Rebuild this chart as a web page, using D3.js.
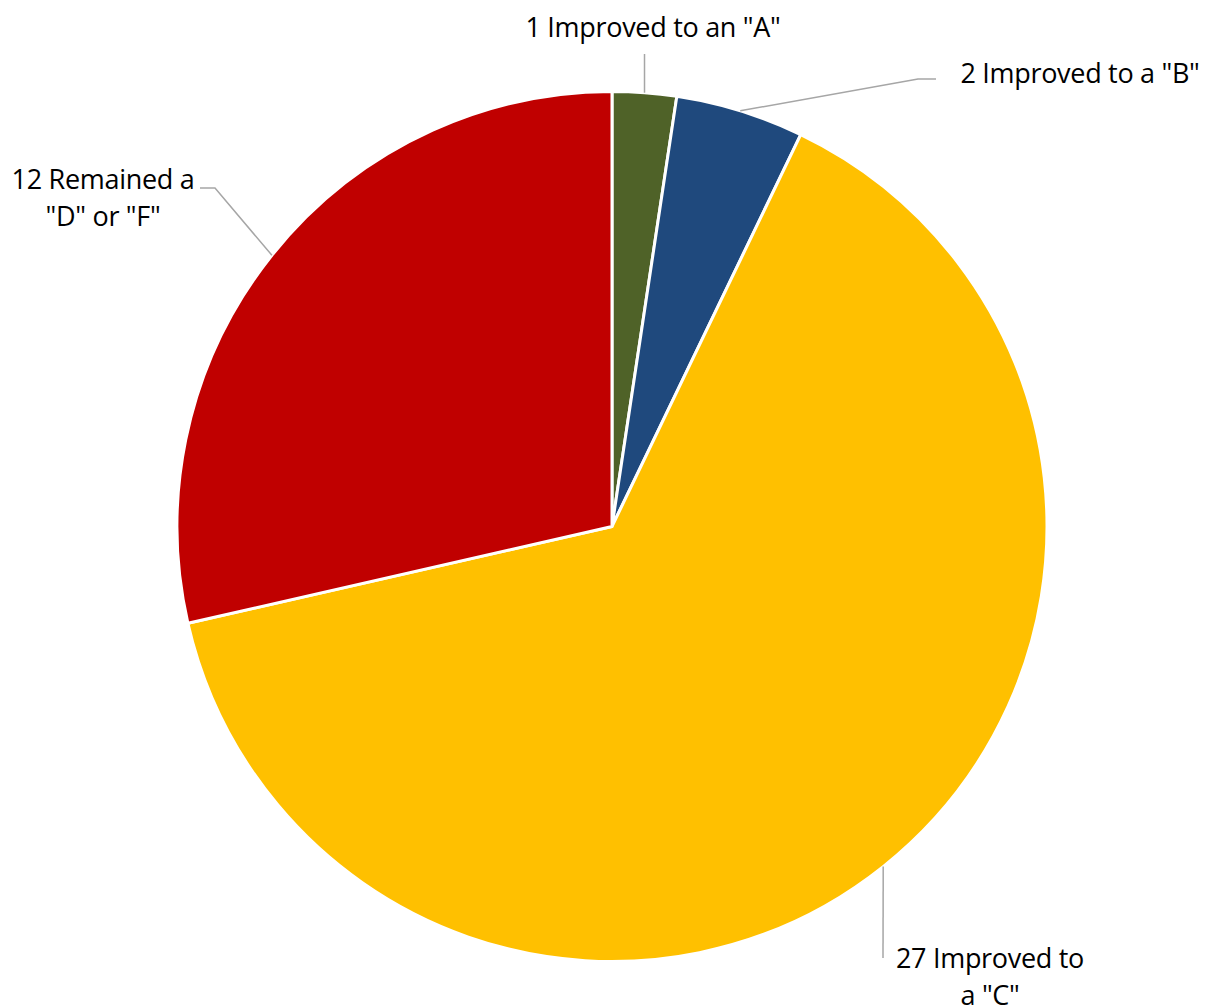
<!DOCTYPE html>
<html lang="en">
<head>
  <meta charset="UTF-8">
  <title>Grade improvement pie</title>
  <script src="https://d3js.org/d3.v7.min.js"></script>
  <style>
    body { margin: 0; background: #fff; }
    .label { font-family: "Open Sans", sans-serif; font-size: 27px; fill: #000; letter-spacing: -0.3px; }
    .leader { fill: none; stroke: #a6a6a6; stroke-width: 1.5px; }
  </style>
</head>
<body>
  <svg id="chart" width="1211" height="1005"></svg>
  <script>
    // chart data
    const categories = ["A", "B", "C", "DF"];
    const counts = [1, 2, 27, 12];
    const labels = [
      ['1 Improved to an "A"'],
      ['2 Improved to a "B"'],
      ['27 Improved to', 'a "C"'],
      ['12 Remained a', '"D" or "F"']
    ];
    const colors = ["#4f6228", "#1f497d", "#ffc000", "#c00000"];

    // where each label sits (elbow of the leader line, text anchor point)
    const labelLayout = [
      { elbow: null, text: [653, 37], anchor: "middle" },
      { elbow: [918, 79], end: [936, 79], text: [1080, 83], anchor: "middle" },
      { elbow: null, end: [883, 958], text: [990, 968], anchor: "middle" },
      { elbow: [215, 188], end: [200, 188], text: [103, 189], anchor: "middle" }
    ];

    const width = 1211, height = 1005;
    const cx = 612, cy = 526.5, radius = 435;
    const svg = d3.select("#chart");
    const g = svg.append("g").attr("transform", `translate(${cx},${cy})`);

    const pie = d3.pie().sort(null).value(d => d);
    const arcs = pie(counts);
    const arc = d3.arc().innerRadius(0).outerRadius(radius);

    g.selectAll("path.slice")
      .data(arcs)
      .join("path")
      .attr("class", "slice")
      .attr("d", arc)
      .attr("fill", (d, i) => colors[i])
      .attr("stroke", "#fff")
      .attr("stroke-width", 3)
      .attr("stroke-linejoin", "round");

    // leader lines start on the rim at the middle angle of the slice
    const rim = d => {
      const a = (d.startAngle + d.endAngle) / 2;
      return [cx + radius * Math.sin(a), cy - radius * Math.cos(a)];
    };

    arcs.forEach((d, i) => {
      const lay = labelLayout[i];
      const p0 = rim(d);
      let pts = [p0];
      if (i === 0) pts.push([p0[0], 54]);
      if (lay.elbow) pts.push(lay.elbow);
      if (lay.end) pts.push(lay.end);
      svg.append("path")
        .attr("class", "leader")
        .attr("d", d3.line()(pts));

      const t = svg.append("text")
        .attr("class", "label")
        .attr("text-anchor", lay.anchor)
        .attr("x", lay.text[0])
        .attr("y", lay.text[1]);
      labels[i].forEach((line, k) => {
        t.append("tspan")
          .attr("x", lay.text[0])
          .attr("dy", k === 0 ? 0 : 37)
          .text(line);
      });
    });
  </script>
</body>
</html>
